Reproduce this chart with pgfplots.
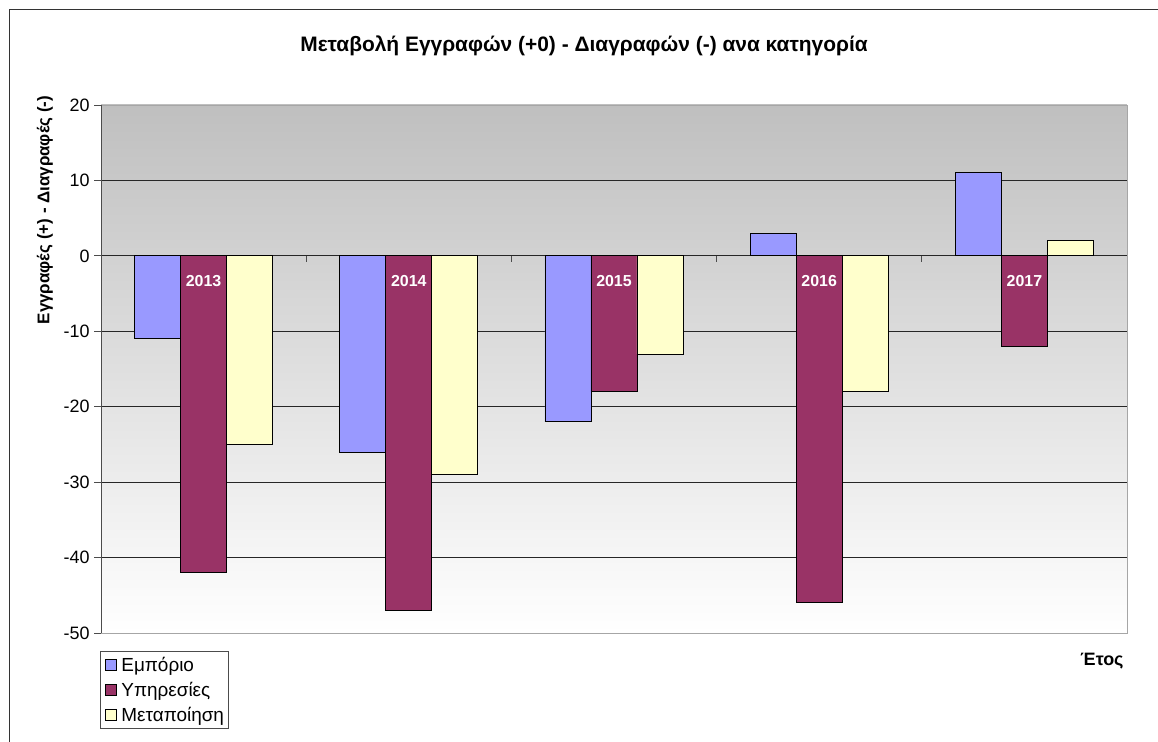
\documentclass[border=0pt]{standalone}
\usepackage{pgfplots}
\usepackage{pgfplotstable}
\pgfplotsset{compat=1.18}
\usepackage{fontspec}
\setmainfont{Liberation Sans}
\definecolor{emp}{HTML}{9999FF}
\definecolor{yp}{HTML}{993366}
\definecolor{met}{HTML}{FFFFCC}

% Net change per sector and year (registrations minus deletions)
\pgfplotstableread{
x  emp  yp   met
0  -11  -42  -25
1  -26  -47  -29
2  -22  -18  -13
3    3  -46  -18
4   11  -12    2
}\changes

\begin{document}
\begin{tikzpicture}[x=1bp,y=1bp]
\useasboundingbox (0,0) rectangle (1158,742);
% chart frame
\draw[line width=1bp, black!80] (9,0) -- (9,732) -- (1158,732);
% titles
\node[font=\fontsize{21}{25}\selectfont\bfseries] at (584,696)
  {Μεταβολή Εγγραφών (+0) - Διαγραφών (-) ανα κατηγορία};
\node[rotate=90, font=\fontsize{17}{20}\selectfont\bfseries] at (45,532)
  {Εγγραφές (+) - Διαγραφές (-)};
\node[font=\fontsize{18}{21}\selectfont\bfseries] at (1102,81) {Έτος};

\begin{axis}[
  at={(101bp,109bp)}, anchor=south west,
  scale only axis, width=1026bp, height=528bp,
  xmin=-0.5, xmax=4.5, ymin=-50, ymax=20,
  xtick=\empty,
  ytick={-50,-40,...,20},
  ytick pos=left, tick align=outside, major tick length=7bp,
  tick style={black!70, line width=0.8bp},
  yticklabel style={font=\fontsize{18}{21}\selectfont, xshift=-1bp},
  /pgf/number format/assume math mode=true,
  ymajorgrids, grid style={black!85, line width=0.8bp},
  axis line style={black!35, line width=0.8bp},
  axis background/.style={shade, top color=black!25, bottom color=white},
  ybar=0pt, bar width=46bp,
  legend style={at={(0,0)}, anchor=north west, xshift=-1bp, yshift=-18bp,
    draw=black!70, line width=0.8bp, font=\fontsize{19}{22}\selectfont,
    inner xsep=2bp, inner ysep=4bp, row sep=6.5bp,
    nodes={inner xsep=2bp, inner ysep=1.5bp}},
  legend cell align=left,
  legend image code/.code={
    \path[draw=none, fill=none] (0bp,-5.5bp) rectangle (17bp,5.5bp);
    \draw[#1, draw=black, line width=0.6bp] (3bp,-5.5bp) rectangle (14bp,5.5bp);},
]
\addplot[fill=emp, draw=black, line width=0.8bp] table[x=x, y=emp] {\changes};
\addplot[fill=yp, draw=black, line width=0.8bp] table[x=x, y=yp] {\changes};
\addplot[fill=met, draw=black, line width=0.8bp] table[x=x, y=met] {\changes};
\legend{Εμπόριο, Υπηρεσίες, Μεταποίηση}

% left axis line and category separators on the zero line
\draw[black!70, line width=1bp] (rel axis cs:0,0) -- (rel axis cs:0,1);
\draw[black!70, line width=0.8bp] (axis cs:0.5,0) -- ([yshift=-6bp]axis cs:0.5,0);
\draw[black!70, line width=0.8bp] (axis cs:1.5,0) -- ([yshift=-6bp]axis cs:1.5,0);
\draw[black!70, line width=0.8bp] (axis cs:2.5,0) -- ([yshift=-6bp]axis cs:2.5,0);
\draw[black!70, line width=0.8bp] (axis cs:3.5,0) -- ([yshift=-6bp]axis cs:3.5,0);
% year labels
\node[white, font=\fontsize{16}{19}\selectfont\bfseries] at (axis cs:0,-3.3) {2013};
\node[white, font=\fontsize{16}{19}\selectfont\bfseries] at (axis cs:1,-3.3) {2014};
\node[white, font=\fontsize{16}{19}\selectfont\bfseries] at (axis cs:2,-3.3) {2015};
\node[white, font=\fontsize{16}{19}\selectfont\bfseries] at (axis cs:3,-3.3) {2016};
\node[white, font=\fontsize{16}{19}\selectfont\bfseries] at (axis cs:4,-3.3) {2017};
\end{axis}
\end{tikzpicture}
\end{document}
